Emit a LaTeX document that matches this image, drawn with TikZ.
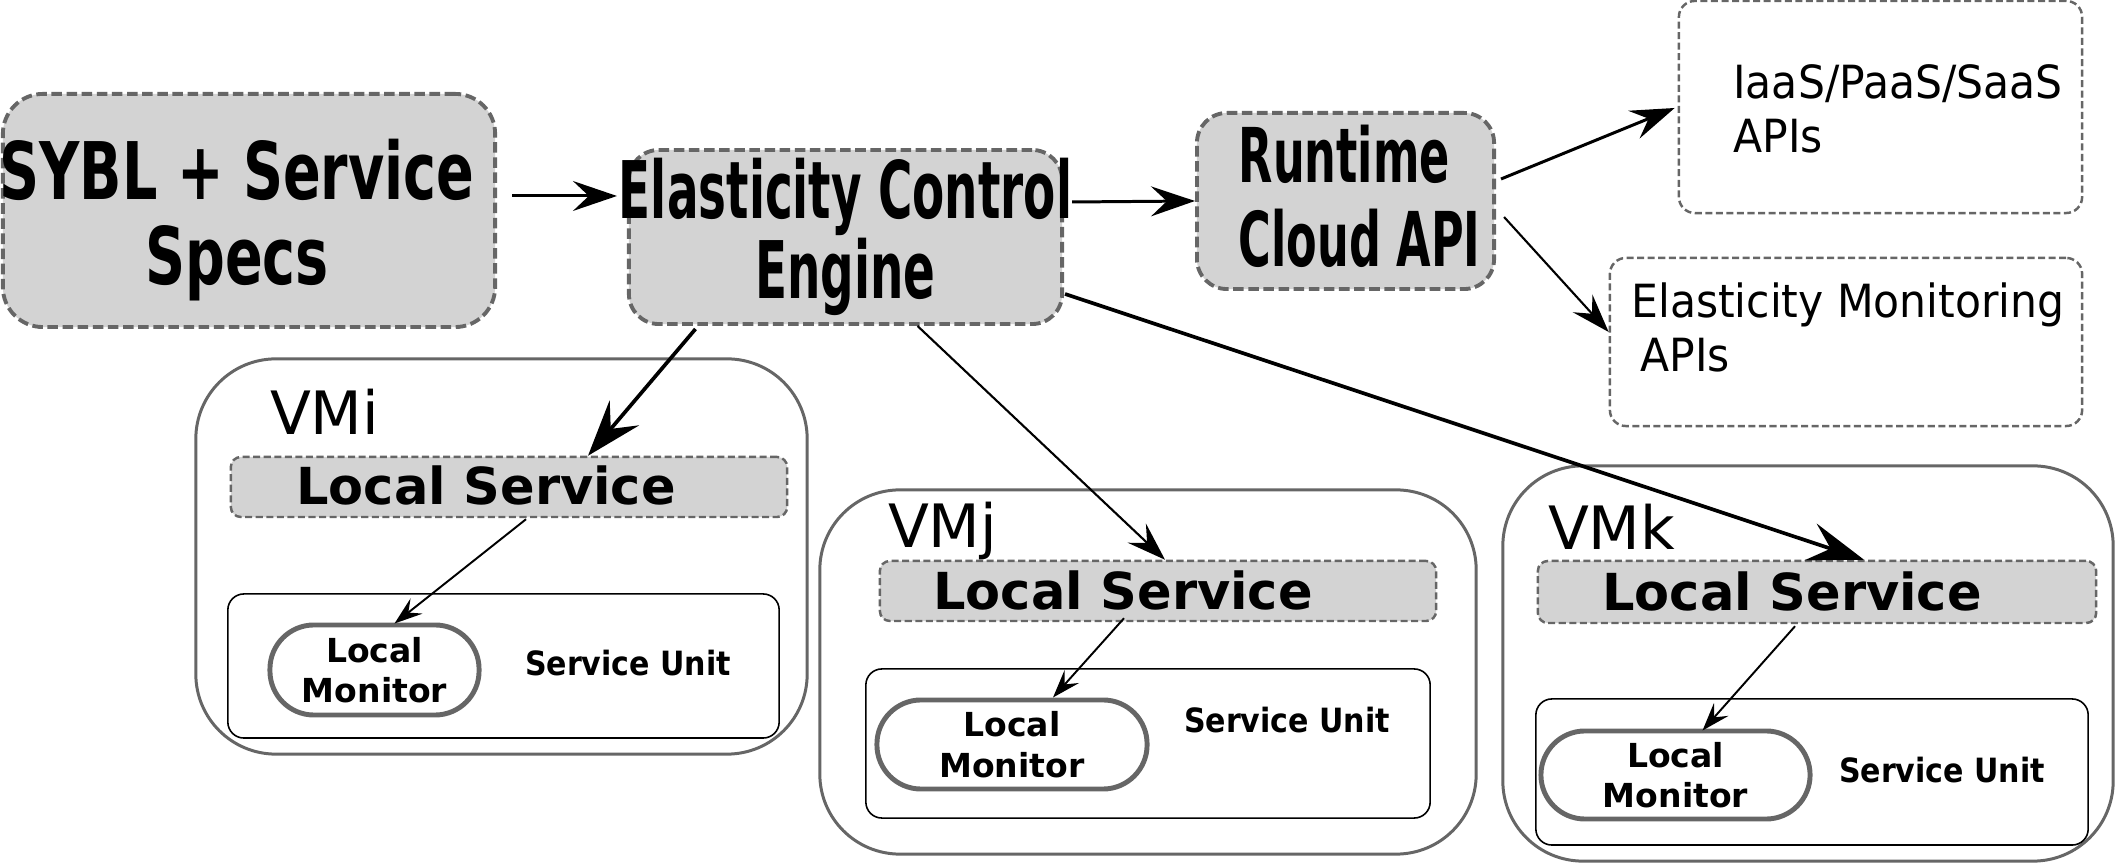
\documentclass[tikz,border=0pt]{standalone}
\usepackage{fontspec}
\setmainfont{DejaVu Sans}
\newfontfamily\sybfont[FakeStretch=0.7]{DejaVu Sans Bold}
\newfontfamily\condfont[FakeStretch=0.59]{DejaVu Sans Bold}
\newfontfamily\unitfont[FakeStretch=0.9]{DejaVu Sans Bold}
\newfontfamily\apifont[FakeStretch=0.93]{DejaVu Sans}
\usetikzlibrary{
    calc,
    arrows.meta,
    positioning
}
\definecolor{boxgray}{HTML}{D3D3D3}
\definecolor{edgegray}{HTML}{666666}
\tikzset{
    ctrlbox/.style={draw=edgegray, fill=boxgray, line width=1.1pt,
        dash pattern=on 3pt off 1.3pt, rounded corners=0.3cm, inner sep=0pt},
    apibox/.style={draw=edgegray, line width=0.7pt,
        dash pattern=on 2pt off 1pt, rounded corners=0.16cm, inner sep=0pt},
    bigtext/.style={align=center, inner sep=0pt},
    apitext/.style={anchor=north west, align=left, inner sep=0pt,
        font={\apifont\fontsize{13pt}{15.4pt}\selectfont}},
    vmbox/.style={draw=edgegray, line width=0.85pt, rounded corners=0.8cm, inner sep=0pt},
    vmlabel/.style={anchor=base west, inner sep=0pt, font={\fontsize{17pt}{18pt}\selectfont}},
    lsbox/.style={draw=edgegray, fill=boxgray, line width=0.7pt,
        dash pattern=on 2pt off 1pt, rounded corners=0.1cm, inner sep=0pt},
    lstext/.style={anchor=base west, inner sep=0pt, font={\bfseries\fontsize{14.5pt}{16pt}\selectfont}},
    subox/.style={draw=black, line width=0.45pt, rounded corners=0.16cm, inner sep=0pt},
    lmbox/.style={draw=edgegray, fill=white, line width=1.4pt, rounded corners=0.44cm,
        align=center, inner sep=0pt, font={\bfseries\fontsize{9.4pt}{11.5pt}\selectfont}},
    sutext/.style={anchor=base, inner sep=0pt, font={\unitfont\fontsize{9.5pt}{11pt}\selectfont}},
    arr/.style={-{Stealth[length=12.5pt,width=8.5pt,inset=4.5pt]}, line width=0.85pt},
    bigarr/.style={-{Stealth[length=16pt,width=11pt,inset=6pt]}, line width=1.05pt},
    midarr/.style={-{Stealth[length=11pt,width=7.5pt,inset=4pt]}, line width=0.6pt},
    thinarr/.style={-{Stealth[length=8pt,width=5.5pt,inset=3pt]}, line width=0.55pt}
}

\begin{document}
\begin{tikzpicture}[x=0.01cm, y=-0.01cm]
    \useasboundingbox (0,0) rectangle (2116,865);

    % top row
    \node[ctrlbox, rounded corners=0.4cm, minimum width=4.92cm, minimum height=2.33cm] (sybl) at (249,210.5) {};
    \node[bigtext, font={\sybfont\fontsize{22.6pt}{24.2pt}\selectfont}] (sybltext) at ($(sybl.center)+(-12,10)$) {SYBL + Service\\Specs};
    \node[ctrlbox, minimum width=4.33cm, minimum height=1.74cm] (ece) at (845.5,237) {};
    \node[bigtext, font={\condfont\fontsize{22.6pt}{22.8pt}\selectfont}] (ecetext) at (ece) {Elasticity Control\\Engine};
    \node[ctrlbox, minimum width=2.97cm, minimum height=1.76cm] (rca) at (1345.5,201) {};
    \node[bigtext, align=left, font={\condfont\fontsize{21.5pt}{23.9pt}\selectfont}] (rcatext) at ($(rca.center)+(14,-5)$) {Runtime\\Cloud API};
    \node[apibox, minimum width=4.03cm, minimum height=2.12cm] (iaas) at (1880.5,107) {};
    \node[apitext] (iaastext) at ($(iaas.north west)+(55,64)$) {IaaS/PaaS/SaaS\\APIs};
    \node[apibox, minimum width=4.72cm, minimum height=1.68cm] (emon) at (1846,342) {};
    \node[apitext] (emontext) at ($(emon.north west)+(22,25)$) {Elasticity Monitoring\\\hspace*{2.6pt}APIs};

    % VMi
    \node[vmbox, minimum width=6.11cm, minimum height=3.95cm] (vmi) at (501.5,556.5) {};
    \node[vmlabel] (vmilabel) at ($(vmi.north west)+(75,77)$) {VMi};
    \node[lsbox, minimum width=5.56cm, minimum height=0.60cm] (lsi) at (509,487) {};
    \node[lstext] (lsitext) at ($(lsi.west)+(66,18)$) {Local Service};
    \node[subox, minimum width=5.51cm, minimum height=1.44cm] (sui) at (503.5,666) {};
    \node[lmbox, minimum width=2.09cm, minimum height=0.90cm] (lmi) at (374.5,670) {Local\\Monitor};
    \node[sutext] (suitext) at ($(sui.center)+(124.5,10)$) {Service Unit};

    % VMj
    \node[vmbox, minimum width=6.56cm, minimum height=3.64cm] (vmj) at (1148,672) {};
    \node[vmlabel] (vmjlabel) at ($(vmj.north west)+(69,59)$) {VMj};
    \node[lsbox, minimum width=5.56cm, minimum height=0.60cm] (lsj) at (1158,591) {};
    \node[lstext] (lsjtext) at ($(lsj.west)+(54,19)$) {Local Service};
    \node[subox, minimum width=5.64cm, minimum height=1.49cm] (suj) at (1148,743.5) {};
    \node[lmbox, minimum width=2.70cm, minimum height=0.89cm] (lmj) at (1012,744.5) {Local\\Monitor};
    \node[sutext] (sujtext) at ($(suj.center)+(139,-10.5)$) {Service Unit};

    % VMk
    \node[vmbox, minimum width=6.10cm, minimum height=3.95cm] (vmk) at (1808,663.5) {};
    \node[vmlabel] (vmklabel) at ($(vmk.north west)+(46,85)$) {VMk};
    \node[lsbox, minimum width=5.58cm, minimum height=0.62cm] (lsk) at (1817,592) {};
    \node[lstext] (lsktext) at ($(lsk.west)+(65,19)$) {Local Service};
    \node[subox, minimum width=5.52cm, minimum height=1.46cm] (suk) at (1812,772) {};
    \node[lmbox, minimum width=2.69cm, minimum height=0.88cm] (lmk) at (1675.5,775) {Local\\Monitor};
    \node[sutext] (suktext) at ($(suk.center)+(130,11)$) {Service Unit};

    % connectors
    \draw[arr] ($(sybl.east)+(15,-14.5)$) -- ($(ece.west)+(-10,-41)$);
    \draw[arr] ($(ece.east)+(8,-35)$) -- (rca.west);
    \draw[arr] ($(rca.east)+(5,-22)$) -- ($(iaas.west)+(-3,1)$);
    \draw[midarr] ($(rca.east)+(8,16)$) -- ($(emon.west)+(0,-10)$);
    \draw[bigarr] ($(ece.south)+(-150,3)$) -- ($(lsi.north)+(79,0)$);
    \draw[midarr] ($(ece.south)+(72,0)$) -- ($(lsj.north)+(7,0)$);
    \draw[bigarr] ($(ece.east)+(1,57)$) -- ($(lsk.north)+(47,0)$);
    \draw[thinarr] ($(lsi.south)+(17,1)$) -- ($(lmi.north)+(20,1)$);
    \draw[thinarr] ($(lsj.south)+(-34,-4)$) -- ($(lmj.north)+(41,0)$);
    \draw[thinarr] ($(lsk.south)+(-22,2)$) -- ($(lmk.north)+(27,2)$);
\end{tikzpicture}
\end{document}
